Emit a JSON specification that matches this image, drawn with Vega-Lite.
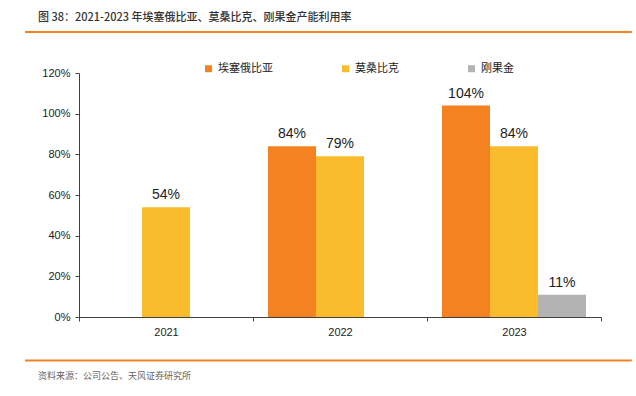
{
  "$schema": "https://vega.github.io/schema/vega-lite/v6.json",
  "autosize": {"type": "none"},
  "width": 522,
  "height": 244,
  "padding": {"left": 79, "top": 73, "right": 35, "bottom": 79},
  "background": "white",
  "config": {"view": {"stroke": null}, "font": "Liberation Sans, Noto Sans CJK SC"},
  "datasets": {
    "bars": [
      {"year": "2021", "country": "莫桑比克", "rate": 0.54},
      {"year": "2022", "country": "埃塞俄比亚", "rate": 0.84},
      {"year": "2022", "country": "莫桑比克", "rate": 0.79},
      {"year": "2023", "country": "埃塞俄比亚", "rate": 1.04},
      {"year": "2023", "country": "莫桑比克", "rate": 0.84},
      {"year": "2023", "country": "刚果金", "rate": 0.11}
    ],
    "notes": [
      {"role": "title", "text": "图 38：2021-2023 年埃塞俄比亚、莫桑比克、刚果金产能利用率"},
      {"role": "source", "text": "资料来源：公司公告、天风证券研究所"}
    ]
  },
  "layer": [
    {
      "data": {"name": "bars"},
      "encoding": {
        "x": {
          "field": "year", "type": "nominal",
          "scale": {"paddingInner": 0, "paddingOuter": 0},
          "axis": {"title": null, "labelAngle": 0, "labelFontSize": 11, "labelColor": "#222", "domainColor": "#404040", "tickColor": "#404040", "tickBand": "extent", "tickSize": 4, "labelPadding": 5, "labelFont": "Liberation Sans"}
        },
        "xOffset": {"field": "country", "type": "nominal", "scale": {"domain": ["埃塞俄比亚", "莫桑比克", "刚果金"], "paddingOuter": 0.3125, "paddingInner": 0}},
        "y": {
          "field": "rate", "type": "quantitative",
          "scale": {"domain": [0, 1.2]},
          "axis": {"title": null, "values": [0, 0.2, 0.4, 0.6, 0.8, 1.0, 1.2], "format": ".0%", "grid": false, "labelFontSize": 11, "labelColor": "#222", "domainColor": "#404040", "tickColor": "#404040", "tickSize": 4, "labelPadding": 5, "labelFont": "Liberation Sans"}
        }
      },
      "layer": [
        {
          "mark": {"type": "bar"},
          "encoding": {
            "color": {
              "field": "country", "type": "nominal",
              "scale": {"domain": ["埃塞俄比亚", "莫桑比克", "刚果金"], "range": ["#F58220", "#FABC2C", "#B3B3B3"]},
              "legend": {"title": null, "orient": "none", "direction": "horizontal", "legendX": 124, "legendY": -10, "symbolType": "square", "symbolSize": 49, "symbolStrokeWidth": 0, "labelFontSize": 11, "labelColor": "#222", "labelFont": "Noto Sans CJK SC", "columnPadding": 67, "labelOffset": 4}
            }
          }
        },
        {
          "mark": {"type": "text", "dy": -12, "fontSize": 14, "color": "#222", "font": "Liberation Sans"},
          "encoding": {"text": {"field": "rate", "type": "quantitative", "format": ".0%"}}
        }
      ]
    },
    {
      "data": {"name": "notes"},
      "layer": [
        {
          "transform": [{"filter": "datum.role === 'title'"}],
          "mark": {"type": "rule", "color": "#F58220", "strokeWidth": 2},
          "encoding": {
            "x": {"datum": -0.1034, "type": "quantitative", "scale": {"domain": [0, 1]}, "axis": null},
            "x2": {"datum": 1.059},
            "y": {"datum": 1.402, "type": "quantitative"}
          }
        },
        {
          "transform": [{"filter": "datum.role === 'source'"}],
          "mark": {"type": "rule", "color": "#F58220", "strokeWidth": 2},
          "encoding": {
            "x": {"datum": -0.1034, "type": "quantitative", "scale": {"domain": [0, 1]}, "axis": null},
            "x2": {"datum": 1.059},
            "y": {"datum": -0.214, "type": "quantitative"}
          }
        },
        {
          "transform": [{"filter": "datum.role === 'title'"}],
          "mark": {"type": "text", "align": "left", "baseline": "middle", "fontSize": 11, "fontWeight": 500, "color": "#333", "font": "Noto Sans CJK SC"},
          "encoding": {
            "x": {"datum": -0.0785, "type": "quantitative", "scale": {"domain": [0, 1]}, "axis": null},
            "y": {"datum": 1.471, "type": "quantitative"},
            "text": {"field": "text"}
          }
        },
        {
          "transform": [{"filter": "datum.role === 'source'"}],
          "mark": {"type": "text", "align": "left", "baseline": "middle", "fontSize": 9, "color": "#666", "font": "Noto Sans CJK SC"},
          "encoding": {
            "x": {"datum": -0.0785, "type": "quantitative", "scale": {"domain": [0, 1]}, "axis": null},
            "y": {"datum": -0.289, "type": "quantitative"},
            "text": {"field": "text"}
          }
        }
      ]
    }
  ],
  "resolve": {"scale": {"x": "independent"}}
}
